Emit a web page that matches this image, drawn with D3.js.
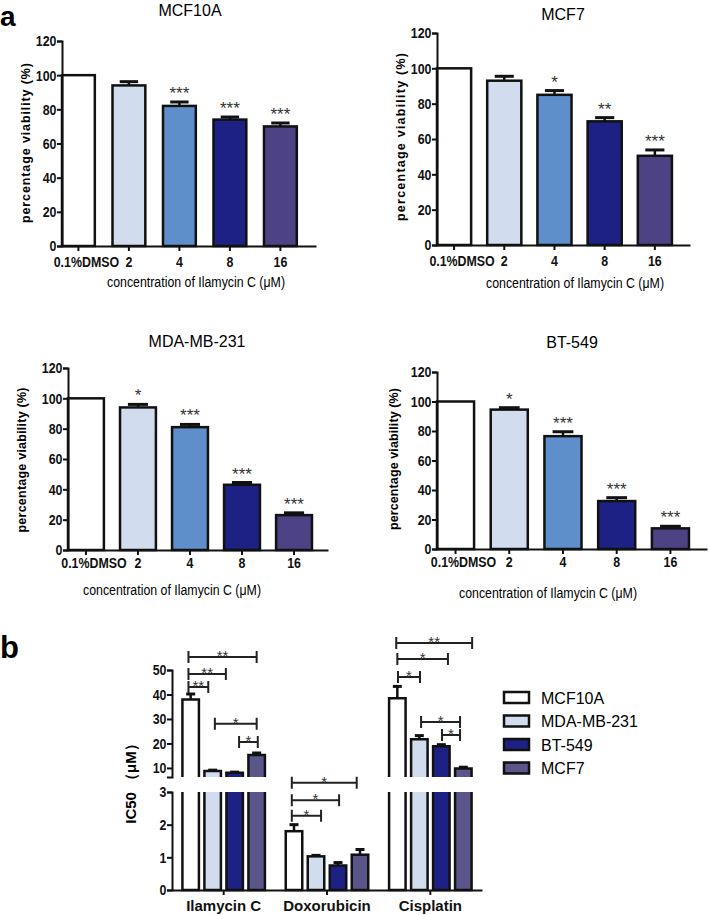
<!DOCTYPE html>
<html>
<head>
<meta charset="utf-8">
<script src="https://cdn.jsdelivr.net/npm/d3@7"></script>
<style>
body { margin: 0; background: #fff; }
svg { display: block; }
</style>
</head>
<body>
<div id="chart"></div>
<script>
// ---------- data ----------
var doses = ["0.1%DMSO", "2", "4", "8", "16"];

var mcf10aMean = [100, 94, 82, 74, 70];
var mcf10aErr  = [0, 2.2, 2.3, 1.5, 2];
var mcf10aSig  = ["", "", "***", "***", "***"];

var mcf7Mean = [100, 93, 85, 70, 50.5];
var mcf7Err  = [0, 2.5, 2.4, 2.1, 3.3];
var mcf7Sig  = ["", "", "*", "**", "***"];

var mdaMean = [100, 94, 81, 43, 23];
var mdaErr  = [0, 2, 1.8, 1.5, 1.5];
var mdaSig  = ["", "*", "***", "***", "***"];

var bt549Mean = [100, 94.5, 76.5, 32.5, 14];
var bt549Err  = [0, 1.3, 3, 2.3, 1.4];
var bt549Sig  = ["", "*", "***", "***", "***"];

var drugs = ["Ilamycin C", "Doxorubicin", "Cisplatin"];
var cellLines = ["MCF10A", "MDA-MB-231", "BT-549", "MCF7"];

var ic50MCF10A = [38, 1.8, 38.5];
var ic50MDA    = [8.8, 1.03, 21.7];
var ic50BT549  = [8.0, 0.75, 18.9];
var ic50MCF7   = [15.3, 1.08, 9.8];
var errMCF10A  = [2.2, 0.2, 4.8];
var errMDA     = [0.3, 0.03, 1.5];
var errBT549   = [0.3, 0.09, 0.6];
var errMCF7    = [0.8, 0.16, 0.5];

// brackets: drug, from (line index), to (line index), height (IC50 value), label
var brackets = [
  ["Ilamycin C", -0.1, 3.0, 55.3, "**"],
  ["Ilamycin C", -0.1, 1.6, 48.4, "**"],
  ["Ilamycin C", -0.1, 0.8, 43.1, "**"],
  ["Ilamycin C", 1.1, 3.0, 28, "*"],
  ["Ilamycin C", 2.2, 3.05, 20.6, "*"],
  ["Doxorubicin", -0.1, 2.85, 3.28, "*"],
  ["Doxorubicin", -0.1, 2.05, 2.75, "*"],
  ["Doxorubicin", -0.1, 1.23, 2.27, "*"],
  ["Cisplatin", -0.05, 3.4, 61, "**"],
  ["Cisplatin", 0, 2.3, 54.5, "*"],
  ["Cisplatin", 0.03, 1.03, 47.1, "*"],
  ["Cisplatin", 1.08, 2.85, 28.8, "*"],
  ["Cisplatin", 2.03, 2.85, 23.5, "*"]
];

// ---------- styles ----------
var doseColors = ["#ffffff", "#d1dcef", "#5f8fcb", "#1e2184", "#4d4284"];
var lineColors = ["#ffffff", "#d1dcef", "#1e2184", "#5b568a"];
var sans = "'Liberation Sans', Arial, sans-serif";

var svg = d3.select("#chart").append("svg")
    .attr("width", 709)
    .attr("height", 915);

svg.append("text").attr("x", 0).attr("y", 25.5)
  .style("font-family", sans).style("font-weight", "bold").style("font-size", "28px")
  .text("a");
svg.append("text").attr("x", 0).attr("y", 658)
  .style("font-family", sans).style("font-weight", "bold").style("font-size", "31px")
  .text("b");

// condensed bold tick labels (no narrow font installed, so squeeze horizontally)
function styleAxis(g, condensed) {
  g.select(".domain").attr("stroke", "#111").attr("stroke-width", 2);
  g.selectAll(".tick line").attr("stroke", "#111").attr("stroke-width", 2);
  var t = g.selectAll(".tick text")
    .style("font-family", sans).style("font-weight", "bold").style("font-size", "15.5px")
    .attr("fill", "#111");
  if (condensed) t.attr("transform", "scale(0.8,1)");
}

function viability(cfg, means, errs, sig) {
  var g = svg.append("g");

  var x = d3.scaleBand()
    .domain(doses)
    .range([cfg.x0, cfg.x1])
    .paddingInner(cfg.pin)
    .paddingOuter(cfg.pout)
    .align(0);
  var y = d3.scaleLinear()
    .domain([0, 120])
    .range([cfg.yZero, cfg.yTop]);

  g.selectAll("rect.bar")
    .data(means)
    .enter()
    .append("rect")
      .attr("class", "bar")
      .attr("x", function(d, i) { return x(doses[i]); })
      .attr("y", function(d) { return y(d); })
      .attr("width", x.bandwidth())
      .attr("height", function(d) { return y(0) - y(d); })
      .attr("fill", function(d, i) { return doseColors[i]; })
      .attr("stroke", "#111")
      .attr("stroke-width", 2.5);

  // error bars (upper only)
  means.forEach(function(m, i) {
    if (!errs[i]) return;
    var cx = x(doses[i]) + x.bandwidth() / 2;
    var w = x.bandwidth() * 0.28;
    g.append("line").attr("x1", cx).attr("x2", cx)
      .attr("y1", y(m)).attr("y2", y(m + errs[i]))
      .attr("stroke", "#111").attr("stroke-width", 2.5);
    g.append("line").attr("x1", cx - w).attr("x2", cx + w)
      .attr("y1", y(m + errs[i])).attr("y2", y(m + errs[i]))
      .attr("stroke", "#111").attr("stroke-width", 3);
  });

  // stars
  g.selectAll("text.sig")
    .data(sig)
    .enter()
    .append("text")
      .attr("class", "sig")
      .attr("x", function(d, i) { return x(doses[i]) + x.bandwidth() / 2; })
      .attr("y", function(d, i) { return y(means[i] + errs[i]) - 3; })
      .attr("text-anchor", "middle")
      .style("font-family", sans).style("font-size", "17px")
      .attr("fill", "#333")
      .text(function(d) { return d; });

  var yAxis = g.append("g")
    .attr("transform", "translate(" + cfg.x0 + ",0)")
    .call(d3.axisLeft(y).tickValues([0, 20, 40, 60, 80, 100, 120]).tickSize(5).tickPadding(2));
  styleAxis(yAxis, true);

  var xAxis = g.append("g")
    .attr("transform", "translate(0," + cfg.yZero + ")")
    .call(d3.axisBottom(x).tickSize(5).tickSizeOuter(0).tickPadding(cfg.tpad));
  styleAxis(xAxis, true);
  xAxis.selectAll(".tick text").attr("dx", function(d, i) { return i === 0 ? 10 : 0; });

  g.append("text")
    .attr("x", cfg.titleX).attr("y", cfg.titleY)
    .attr("text-anchor", "middle")
    .style("font-family", sans).style("font-size", "16px")
    .text(cfg.title);

  g.append("text")
    .attr("transform", "translate(" + cfg.ylabX + "," + cfg.ylabY + ") rotate(-90)")
    .attr("text-anchor", "middle")
    .attr("textLength", cfg.ylabLen).attr("lengthAdjust", "spacing")
    .style("font-family", sans).style("font-weight", "bold").style("font-size", "12.5px")
    .text("percentage viability (%)");

  g.append("text")
    .attr("x", cfg.xlabX).attr("y", cfg.xlabY)
    .attr("text-anchor", "middle")
    .attr("textLength", 178).attr("lengthAdjust", "spacingAndGlyphs")
    .style("font-family", sans).style("font-size", "14px")
    .text("concentration of Ilamycin C (\u03bcM)");
}

viability({title: "MCF10A", x0: 62, x1: 316, pin: 0.35, pout: 0.19, yZero: 246, yTop: 41, tpad: 5,
           titleX: 190, titleY: 16, ylabX: 30, ylabY: 143, ylabLen: 160, xlabX: 196, xlabY: 287},
          mcf10aMean, mcf10aErr, mcf10aSig);
viability({title: "MCF7", x0: 437, x1: 690, pin: 0.32, pout: 0.18, yZero: 245, yTop: 33, tpad: 5,
           titleX: 563, titleY: 20, ylabX: 405, ylabY: 137, ylabLen: 168, xlabX: 575, xlabY: 288},
          mcf7Mean, mcf7Err, mcf7Sig);
viability({title: "MDA-MB-231", x0: 68, x1: 328, pin: 0.31, pout: 0.154, yZero: 550, yTop: 368, tpad: 2,
           titleX: 197, titleY: 347, ylabX: 26, ylabY: 460, ylabLen: 145, xlabX: 172, xlabY: 595},
          mdaMean, mdaErr, mdaSig);
viability({title: "BT-549", x0: 437, x1: 707, pin: 0.31, pout: 0.168, yZero: 549, yTop: 372, tpad: 2,
           titleX: 572, titleY: 348, ylabX: 398, ylabY: 459, ylabLen: 142, xlabX: 548, xlabY: 598},
          bt549Mean, bt549Err, bt549Sig);

// ---------- panel b : IC50 with broken axis ----------
var gb = svg.append("g");
var ic50Means = [ic50MCF10A, ic50MDA, ic50BT549, ic50MCF7];
var ic50Errs = [errMCF10A, errMDA, errBT549, errMCF7];

var gx = d3.scaleBand().domain(drugs).range([172, 482]);
var sx = d3.scaleBand().domain(cellLines).range([-44, 44]).paddingInner(0.25).paddingOuter(0.125);
var sIdx = d3.scaleLinear().domain([0, 3])
  .range([sx(cellLines[0]) + sx.bandwidth() / 2, sx(cellLines[3]) + sx.bandwidth() / 2]);
var yLo = d3.scaleLinear().domain([0, 3]).range([890, 792]);
var yHi = d3.scaleLinear().domain([6.3, 50]).range([777, 670]);
function yb(v) { return v <= 3 ? yLo(v) : yHi(v); }

var barData = [];
drugs.forEach(function(dr, di) {
  cellLines.forEach(function(cl, ci) {
    barData.push({drug: dr, line: cl, ci: ci, v: ic50Means[ci][di], e: ic50Errs[ci][di]});
  });
});

barData.forEach(function(d) {
  var x0 = gx(d.drug) + gx.bandwidth() / 2 + sx(d.line);
  var x1 = x0 + sx.bandwidth();
  if (d.v <= 3) {
    gb.append("rect").attr("x", x0).attr("y", yLo(d.v))
      .attr("width", sx.bandwidth()).attr("height", yLo(0) - yLo(d.v))
      .attr("fill", lineColors[d.ci]).attr("stroke", "#111").attr("stroke-width", 2.5);
  } else {
    gb.append("rect").attr("x", x0).attr("y", yLo(3))
      .attr("width", sx.bandwidth()).attr("height", yLo(0) - yLo(3))
      .attr("fill", lineColors[d.ci]);
    gb.append("path")
      .attr("d", "M" + x0 + "," + yLo(3) + "V" + yLo(0) + "H" + x1 + "V" + yLo(3))
      .attr("fill", "none").attr("stroke", "#111").attr("stroke-width", 2.5);
    gb.append("rect").attr("x", x0).attr("y", yHi(d.v))
      .attr("width", sx.bandwidth()).attr("height", yHi(6.3) - yHi(d.v))
      .attr("fill", lineColors[d.ci]);
    gb.append("path")
      .attr("d", "M" + x0 + "," + yHi(6.3) + "V" + yHi(d.v) + "H" + x1 + "V" + yHi(6.3))
      .attr("fill", "none").attr("stroke", "#111").attr("stroke-width", 2.5);
  }
  var cx = (x0 + x1) / 2;
  gb.append("line").attr("x1", cx).attr("x2", cx)
    .attr("y1", yb(d.v)).attr("y2", yb(d.v + d.e))
    .attr("stroke", "#111").attr("stroke-width", 2.5);
  gb.append("line").attr("x1", cx - 4.5).attr("x2", cx + 4.5)
    .attr("y1", yb(d.v + d.e)).attr("y2", yb(d.v + d.e))
    .attr("stroke", "#111").attr("stroke-width", 3);
});

// significance brackets
brackets.forEach(function(b) {
  var c = gx(b[0]) + gx.bandwidth() / 2;
  var xa = c + sIdx(b[1]), xz = c + sIdx(b[2]);
  var yy = b[0] === "Doxorubicin" ? yLo(b[3]) : yHi(b[3]);
  gb.append("path")
    .attr("d", "M" + xa + "," + (yy - 6) + "V" + (yy + 6) + "M" + xa + "," + yy + "H" + xz +
               "M" + xz + "," + (yy - 6) + "V" + (yy + 6))
    .attr("fill", "none").attr("stroke", "#222").attr("stroke-width", 2);
  gb.append("text").attr("x", (xa + xz) / 2).attr("y", yy + 4)
    .attr("text-anchor", "middle")
    .style("font-family", sans).style("font-size", "15px").attr("fill", "#333")
    .text(b[4]);
});

var axLo = gb.append("g").attr("transform", "translate(172,0)")
  .call(d3.axisLeft(yLo).tickValues([0, 1, 2, 3]).tickFormat(d3.format("d")).tickSize(5).tickPadding(2));
styleAxis(axLo, true);
var axHi = gb.append("g").attr("transform", "translate(172,0)")
  .call(d3.axisLeft(yHi).tickValues([10, 20, 30, 40, 50]).tickSize(5).tickSizeOuter(5).tickPadding(2));
styleAxis(axHi, true);

var axX = gb.append("g").attr("transform", "translate(0,890)")
  .call(d3.axisBottom(gx).tickSize(5).tickSizeOuter(0).tickPadding(5));
styleAxis(axX, false);
axX.selectAll(".tick text").style("font-size", "15px");

gb.append("text")
  .attr("transform", "translate(136,780) rotate(-90)")
  .attr("text-anchor", "middle")
  .style("font-family", sans).style("font-weight", "bold").style("font-size", "15px")
  .text("IC50 \uff08\u03bcM\uff09");

// legend
var leg = gb.selectAll("g.leg")
  .data(cellLines)
  .enter()
  .append("g")
    .attr("class", "leg")
    .attr("transform", function(d, i) { return "translate(504," + (692 + i * 23.5) + ")"; });
leg.append("rect").attr("width", 25).attr("height", 11)
  .attr("fill", function(d, i) { return lineColors[i]; })
  .attr("stroke", "#111").attr("stroke-width", 2.5);
leg.append("text").attr("x", 37).attr("y", 11.5)
  .style("font-family", sans).style("font-size", "16px")
  .text(function(d) { return d; });
</script>
</body>
</html>
